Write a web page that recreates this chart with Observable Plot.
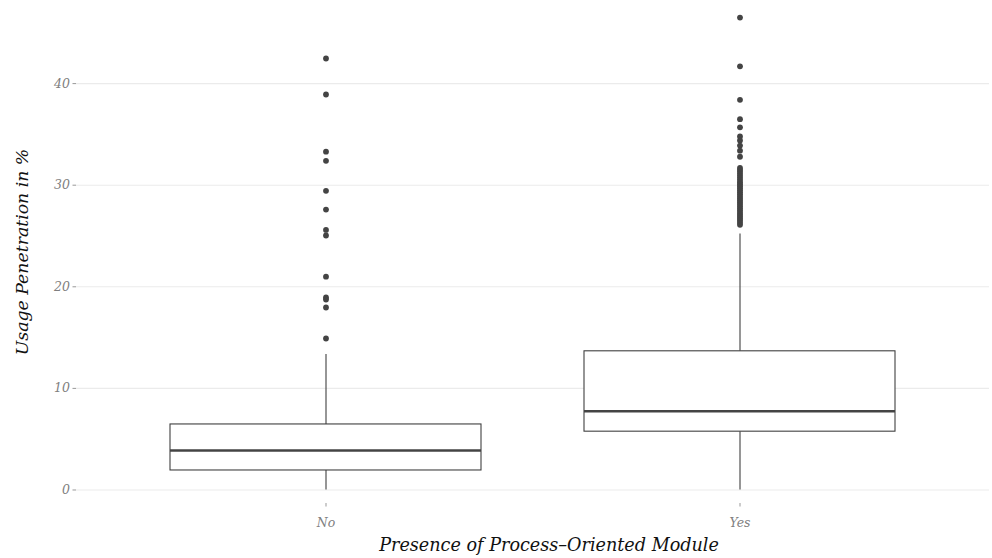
<!DOCTYPE html>
<html>
<head>
<meta charset="utf-8">
<script src="https://cdn.jsdelivr.net/npm/d3@7"></script>
<script src="https://cdn.jsdelivr.net/npm/@observablehq/plot@0.6"></script>
<style>
  html, body { margin: 0; padding: 0; background: #fff; }
  #chart { width: 992px; height: 558px; }
  svg { overflow: visible; }
</style>
</head>
<body>
<div id="chart"></div>
<script>
// Categories
const groups = ["No", "Yes"];
// Box statistics per group
const q1 = [1.92, 5.74];
const median = [3.89, 7.75];
const q3 = [6.45, 13.65];
const whiskerLow = [0.0, 0.0];
const whiskerHigh = [13.34, 25.2];
// Outliers per group
const outliersNo = [42.47, 38.93, 33.3, 32.4, 29.45, 27.6, 25.6, 25.05, 21.0, 18.95, 18.75, 17.96, 14.91];
const outliersYes = [46.5, 41.7, 38.4, 36.5, 35.7, 34.8, 34.4, 33.9, 33.4, 32.8,
  31.7, 31.5, 31.3, 31.1, 30.9, 30.7, 30.5, 30.3, 30.1, 29.9, 29.7, 29.5, 29.3, 29.1,
  28.9, 28.7, 28.5, 28.3, 28.1, 27.9, 27.7, 27.5, 27.3, 27.1, 26.9, 26.7, 26.5, 26.3, 26.1];
// Axis ticks
const yTicks = [0, 10, 20, 30, 40];

const boxes = groups.map((g, i) => ({
  group: g, q1: q1[i], median: median[i], q3: q3[i], lo: whiskerLow[i], hi: whiskerHigh[i]
}));
const outliers = [
  ...outliersNo.map(v => ({group: "No", value: v})),
  ...outliersYes.map(v => ({group: "Yes", value: v}))
];

const font = "'DejaVu Serif', 'Liberation Serif', serif";
const ink = "#3a3a3a";

const plot = Plot.plot({
  width: 992,
  height: 558,
  marginLeft: 76,
  marginRight: 3,
  marginTop: 0,
  marginBottom: 55,
  style: {fontFamily: font, fontStyle: "italic", fontSize: "12.5px", background: "#fff"},
  x: {
    domain: groups,
    paddingInner: 0.25,
    paddingOuter: 0.225,
    axis: null
  },
  y: {
    domain: [-1.33, 48.18],
    axis: null
  },
  marks: [
    Plot.ruleY(yTicks, {stroke: "#ebebeb", strokeWidth: 1.1}),
    // y axis ticks + labels
    Plot.axisY(yTicks, {
      tickSize: 3.5, tickPadding: 3, stroke: "#333", strokeOpacity: 0.5,
      fill: "#7f7f7f", label: null
    }),
    // x axis ticks + labels
    Plot.axisX(groups, {
      tickSize: 3.5, tickPadding: 11, stroke: "#333", strokeOpacity: 0.5,
      fill: "#7f7f7f", label: null
    }),
    // whiskers
    Plot.ruleX(boxes, {x: "group", y1: "lo", y2: "q1", stroke: ink, strokeWidth: 1.07}),
    Plot.ruleX(boxes, {x: "group", y1: "q3", y2: "hi", stroke: ink, strokeWidth: 1.07}),
    // box
    Plot.barY(boxes, {x: "group", y1: "q1", y2: "q3", fill: "white", stroke: ink, strokeWidth: 1.07}),
    // median
    Plot.tickY(boxes, {x: "group", y: "median", stroke: "#444", strokeWidth: 2.4}),
    // outliers
    Plot.dot(outliers, {x: "group", y: "value", r: 2.9, fill: "#444", stroke: "none"}),
    // axis titles
    Plot.text(["Presence of Process\u2013Oriented Module"], {
      frameAnchor: "bottom", dx: 16, dy: 47, fontSize: 17.6, fill: "#111", fontStyle: "italic"
    }),
    Plot.text(["Usage Penetration in %"], {
      frameAnchor: "left", dx: -54, rotate: -90, textAnchor: "middle", fontSize: 17.3, fill: "#111", fontStyle: "italic"
    })
  ]
});
document.getElementById("chart").appendChild(plot);
</script>
</body>
</html>
